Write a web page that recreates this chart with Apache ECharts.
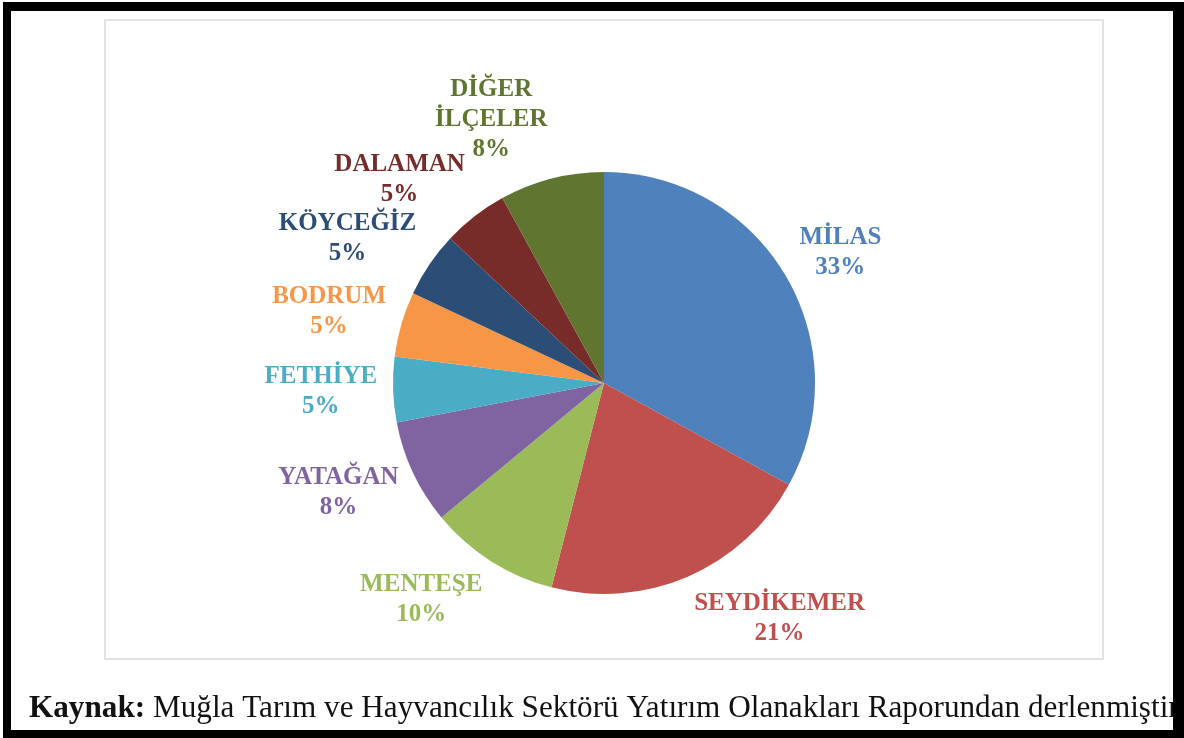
<!DOCTYPE html>
<html>
<head>
<meta charset="utf-8">
<title>Muğla yatırım dağılımı</title>
<script src="https://cdn.jsdelivr.net/npm/echarts@6/dist/echarts.min.js"></script>
<style>
  html, body { margin: 0; padding: 0; background: #fff; }
  #chart { width: 1184px; height: 738px; }
</style>
</head>
<body>
<div id="chart"></div>
<script>
// ilçeler ve payları (%)
var categories = ["MİLAS", "SEYDİKEMER", "MENTEŞE", "YATAĞAN", "FETHİYE", "BODRUM", "KÖYCEĞİZ", "DALAMAN", "DİĞER\nİLÇELER"];
var values = [33, 21, 10, 8, 5, 5, 5, 5, 8];
var colors = ["#4f81bd", "#c0504d", "#9bbb59", "#8064a2", "#4bacc6", "#f79646", "#2c4d75", "#772c2a", "#5f7530"];
var caption = "Muğla Tarım ve Hayvancılık Sektörü Yatırım Olanakları Raporundan derlenmiştir";

var serif = '"Liberation Serif", "Times New Roman", serif';
var CX = 604, CY = 383, R = 211, LEN = 16;

var myChart = echarts.init(document.getElementById("chart"));

var option = {
  animation: false,
  color: colors,
  graphic: [
    // grafik çerçevesi
    { type: "rect", shape: { x: 105, y: 20, width: 998, height: 639 },
      style: { fill: "none", stroke: "#d9d9d9", lineWidth: 1.5 }, z: 0 },
    { type: "text", x: 29, y: 692, scaleX: 0.975,
      style: {
        text: "{b|Kaynak:} " + caption,
        font: "32px " + serif, fill: "#111", lineHeight: 34,
        rich: { b: { font: "bold 32px " + serif, fill: "#111", lineHeight: 34 } }
      }, z: 1 },
    // siyah dış kenarlık
    { type: "rect", shape: { x: 3, y: 2, width: 1181, height: 9 }, style: { fill: "#000" }, z: 2 },
    { type: "rect", shape: { x: 3, y: 2, width: 8, height: 736 }, style: { fill: "#000" }, z: 2 },
    { type: "rect", shape: { x: 1173, y: 2, width: 11, height: 736 }, style: { fill: "#000" }, z: 2 },
    { type: "rect", shape: { x: 3, y: 730, width: 1181, height: 8 }, style: { fill: "#000" }, z: 2 }
  ],
  series: [
    {
      name: "Yatırım",
      type: "pie",
      radius: R,
      center: [CX, CY],
      startAngle: 90,
      avoidLabelOverlap: false,
      label: {
        show: true,
        position: "outside",
        alignTo: "none",
        distanceToLabelLine: 0,
        fontFamily: serif,
        fontWeight: "bold",
        fontSize: 25,
        lineHeight: 30,
        formatter: function (p) {
          return p.name + "\n" + Math.round(p.percent) + "%";
        }
      },
      labelLine: { show: false, length: LEN, length2: 0 },
      // Excel tarzı: etiket kutusu, dilim ortasındaki noktaya köşesinden yaslanır
      labelLayout: function (p) {
        var r = p.labelRect;
        var left = p.align === "left";
        var ax = left ? r.x : r.x + r.width;
        var ay = r.y + r.height / 2;
        var uy = (ay - CY) / (R + LEN);
        return {
          x: left ? ax + r.width / 2 : ax - r.width / 2,
          y: ay + 0.5 * r.height * uy,
          align: "center",
          verticalAlign: "middle"
        };
      },
      emphasis: { disabled: true },
      data: categories.map(function (name, i) {
        return { name: name, value: values[i], label: { color: colors[i] } };
      })
    }
  ]
};

myChart.setOption(option);
</script>
</body>
</html>
